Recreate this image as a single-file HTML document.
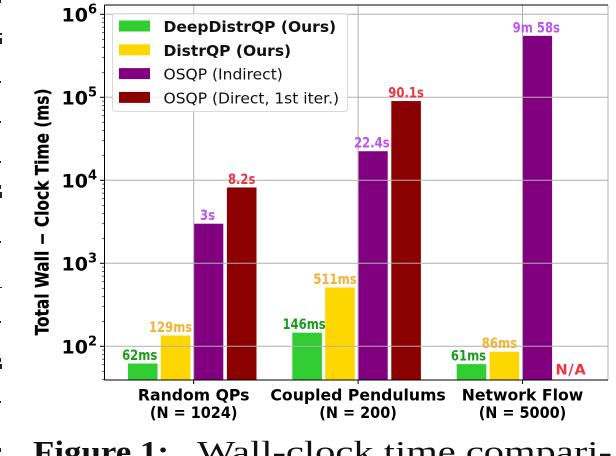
<!DOCTYPE html>
<html lang="en">
<head>
<meta charset="utf-8">
<title>Wall-clock time comparison</title>
<style>
html,body{margin:0;padding:0;background:#fff;}
body{width:616px;height:456px;overflow:hidden;}
svg{display:block;}
text{font-family:"DejaVu Sans","Liberation Sans",sans-serif;}
</style>
</head>
<body>
<svg id="chart" width="616" height="456" viewBox="0 0 616 456" xmlns="http://www.w3.org/2000/svg">
  <g id="gutter" fill="#222">
    <rect x="0" y="0" width="1" height="3"/><rect x="0" y="33" width="2" height="2"/><rect x="0" y="38" width="2" height="6"/>
    <rect x="0" y="81" width="1" height="2"/><rect x="0" y="121" width="1" height="2"/><rect x="0" y="161" width="1" height="2"/>
    <rect x="0" y="185" width="1" height="4"/><rect x="0" y="192" width="2" height="6"/><rect x="0" y="241" width="1" height="2"/>
    <rect x="0" y="287" width="2" height="1"/><rect x="0" y="321" width="1" height="2"/><rect x="0" y="358" width="1" height="4"/>
    <rect x="0" y="364" width="2" height="5"/><rect x="0" y="401" width="1" height="2"/><rect x="0" y="448" width="1" height="4"/>
  </g>
  <g id="bars"></g>
  <g id="grid"></g>
  <g id="bar-labels"></g>
  <g id="axes"></g>
  <g>
    <rect x="112.5" y="13.5" width="235" height="98" rx="3" fill="#fff" fill-opacity="0.8" stroke="#d9d9d9" stroke-width="1"/>
    <g id="legend-entries"></g>
  </g>
  <text font-weight="bold" font-size="19" fill="#000" stroke="#000" stroke-width="0.25" text-anchor="middle" transform="translate(48.5,212) rotate(-90)" textLength="247" lengthAdjust="spacingAndGlyphs">Total Wall − Clock Time (ms)</text>
  <text x="33" y="462" font-size="31" font-weight="bold" fill="#111" textLength="136" lengthAdjust="spacingAndGlyphs" style="font-family:'Liberation Serif','DejaVu Serif',serif">Figure 1:</text>
  <text x="197" y="462" font-size="31" fill="#111" textLength="415" lengthAdjust="spacingAndGlyphs" style="font-family:'Liberation Serif','DejaVu Serif',serif">Wall-clock time compari-</text>
</svg>
<script>
const categories = ["Random QPs", "Coupled Pendulums", "Network Flow"];
const categorySizes = ["(N = 1024)", "(N = 200)", "(N = 5000)"];
const seriesNames = ["DeepDistrQP (Ours)", "DistrQP (Ours)", "OSQP (Indirect)", "OSQP (Direct, 1st iter.)"];
const deepDistrQP = [62, 146, 61];
const distrQP = [135, 511, 86];
const osqpIndirect = [3000, 22400, 550000];
const osqpDirect = [8200, 90100, null];
const deepDistrQPLabels = ["62ms", "146ms", "61ms"];
const distrQPLabels = ["129ms", "511ms", "86ms"];
const osqpIndirectLabels = ["3s", "22.4s", "9m 58s"];
const osqpDirectLabels = ["8.2s", "90.1s", "N/A"];
const yTickExponents = [2, 3, 4, 5, 6];

const svgNS = "http://www.w3.org/2000/svg";
const series = [
  {values: deepDistrQP, labels: deepDistrQPLabels, color: "#32cd32", labelColor: "#1a9c1a", labelShift: -3},
  {values: distrQP, labels: distrQPLabels, color: "#ffd700", labelColor: "#f2b233", labelShift: -5},
  {values: osqpIndirect, labels: osqpIndirectLabels, color: "#800080", labelColor: "#bb55ee", labelShift: -1},
  {values: osqpDirect, labels: osqpDirectLabels, color: "#8b0000", labelColor: "#f0333f", labelShift: 0}
];
const plot = {left: 104.5, right: 608, top: 5, bottom: 380};
function yScale(v) { return 346.3 - 83 * (Math.log10(v) - 2); }
function xScale(i) { return 193.7 + 164.4 * i; }
function make(tag, attrs, text) {
  const el = document.createElementNS(svgNS, tag);
  for (const k in attrs) el.setAttribute(k, attrs[k]);
  if (text !== undefined) el.textContent = text;
  return el;
}
const barsG = document.getElementById("bars");
const gridG = document.getElementById("grid");
const labelsG = document.getElementById("bar-labels");
const axesG = document.getElementById("axes");
const legendG = document.getElementById("legend-entries");
const barWidth = 29.6, barStep = 32.9;

series.forEach(function (s, si) {
  s.values.forEach(function (v, ci) {
    const x = xScale(ci) + (si - 2) * barStep + (si === 3 ? 0.3 : 0);
    const cx = x + barWidth / 2;
    if (v !== null) {
      const y = yScale(v);
      const bar = make("rect", {x: x, y: y, width: barWidth, height: plot.bottom - y, fill: s.color});
      
      
      barsG.appendChild(bar);
      const lab = make("text", {x: cx + s.labelShift, y: y - 3.5, "text-anchor": "middle", "font-size": 14, "font-weight": "bold", fill: s.labelColor}, s.labels[ci]);
      
      
      labelsG.appendChild(lab);
      lab.setAttribute("textLength", (lab.getComputedTextLength() * 0.83).toFixed(1));
      lab.setAttribute("lengthAdjust", "spacingAndGlyphs");
    } else {
      const na = make("text", {x: cx + 0.5, y: 374.5, "text-anchor": "middle", "font-size": 14.5, "font-weight": "bold", fill: s.labelColor, "letter-spacing": "0.8"}, s.labels[ci]);
      
      
      labelsG.appendChild(na);
    }
  });
});

yTickExponents.forEach(function (e) {
  const y = yScale(Math.pow(10, e));
  const g = make("line", {x1: plot.left, x2: plot.right, y1: y, y2: y, stroke: "#b0b0b0", "stroke-width": 1});
  
  
  gridG.appendChild(g);
  const t = make("line", {x1: plot.left - 4.5, x2: plot.left, y1: y, y2: y, stroke: "#000", "stroke-width": 1});
  
  
  axesG.appendChild(t);
  const lab = make("text", {x: 97, y: y + 7, "text-anchor": "end", "font-size": 19, "font-weight": "bold", fill: "#000"});
  
  
  const base = make("tspan", {}, "10");
  const sup = make("tspan", {dy: -8, "font-size": 13}, String(e));
  lab.appendChild(base);
  lab.appendChild(sup);
  axesG.appendChild(lab);
});

for (let d = 1; d <= 5; d++) {
  for (let m = 2; m <= 9; m++) {
    const v = m * Math.pow(10, d);
    const y = yScale(v);
    if (y > plot.bottom || y < plot.top) continue;
    const t = make("line", {x1: plot.left - 2.5, x2: plot.left, y1: y, y2: y, stroke: "#222", "stroke-width": 0.7});
    
    
    axesG.appendChild(t);
  }
}

categories.forEach(function (c, i) {
  const x = xScale(i);
  const g = make("line", {x1: x, x2: x, y1: plot.top, y2: plot.bottom, stroke: "#b0b0b0", "stroke-width": 1});
  
  
  gridG.appendChild(g);
  const t = make("line", {x1: x, x2: x, y1: plot.bottom, y2: plot.bottom + 4, stroke: "#000", "stroke-width": 1});
  
  
  axesG.appendChild(t);
  const l1 = make("text", {x: x, y: 400.5, "text-anchor": "middle", "font-size": 15.7, "font-weight": "bold", fill: "#000"}, c);
  
  
  axesG.appendChild(l1);
  const l2 = make("text", {x: x, y: 418, "text-anchor": "middle", "font-size": 15.7, "font-weight": "bold", fill: "#000"}, categorySizes[i]);
  
  
  axesG.appendChild(l2);
  l2.setAttribute("textLength", (l2.getComputedTextLength() * 0.92).toFixed(1));
  l2.setAttribute("lengthAdjust", "spacingAndGlyphs");
});

const rightSpine = make("line", {x1: plot.right, x2: plot.right, y1: plot.top, y2: plot.bottom, stroke: "#b0b0b0", "stroke-width": 1});


axesG.appendChild(rightSpine);
const leftSpine = make("line", {x1: plot.left, x2: plot.left, y1: plot.top, y2: plot.bottom, stroke: "#000", "stroke-width": 1});


axesG.appendChild(leftSpine);
const topSpine = make("line", {x1: plot.left, x2: plot.right, y1: plot.top, y2: plot.top, stroke: "#000", "stroke-width": 1});


axesG.appendChild(topSpine);
const bottomSpine = make("line", {x1: plot.left, x2: plot.right, y1: plot.bottom, y2: plot.bottom, stroke: "#000", "stroke-width": 1});


axesG.appendChild(bottomSpine);

seriesNames.forEach(function (name, i) {
  const y = 20.5 + i * 23.8;
  const swatch = make("rect", {x: 119, y: y, width: 31, height: 11, fill: series[i].color});
  
  
  legendG.appendChild(swatch);
  const label = make("text", {x: 163.5, y: y + 11.5, "font-size": 15.5, fill: "#111", "font-weight": i < 2 ? "bold" : "normal"}, name);
  
  
  legendG.appendChild(label);
});
</script>
</body>
</html>
